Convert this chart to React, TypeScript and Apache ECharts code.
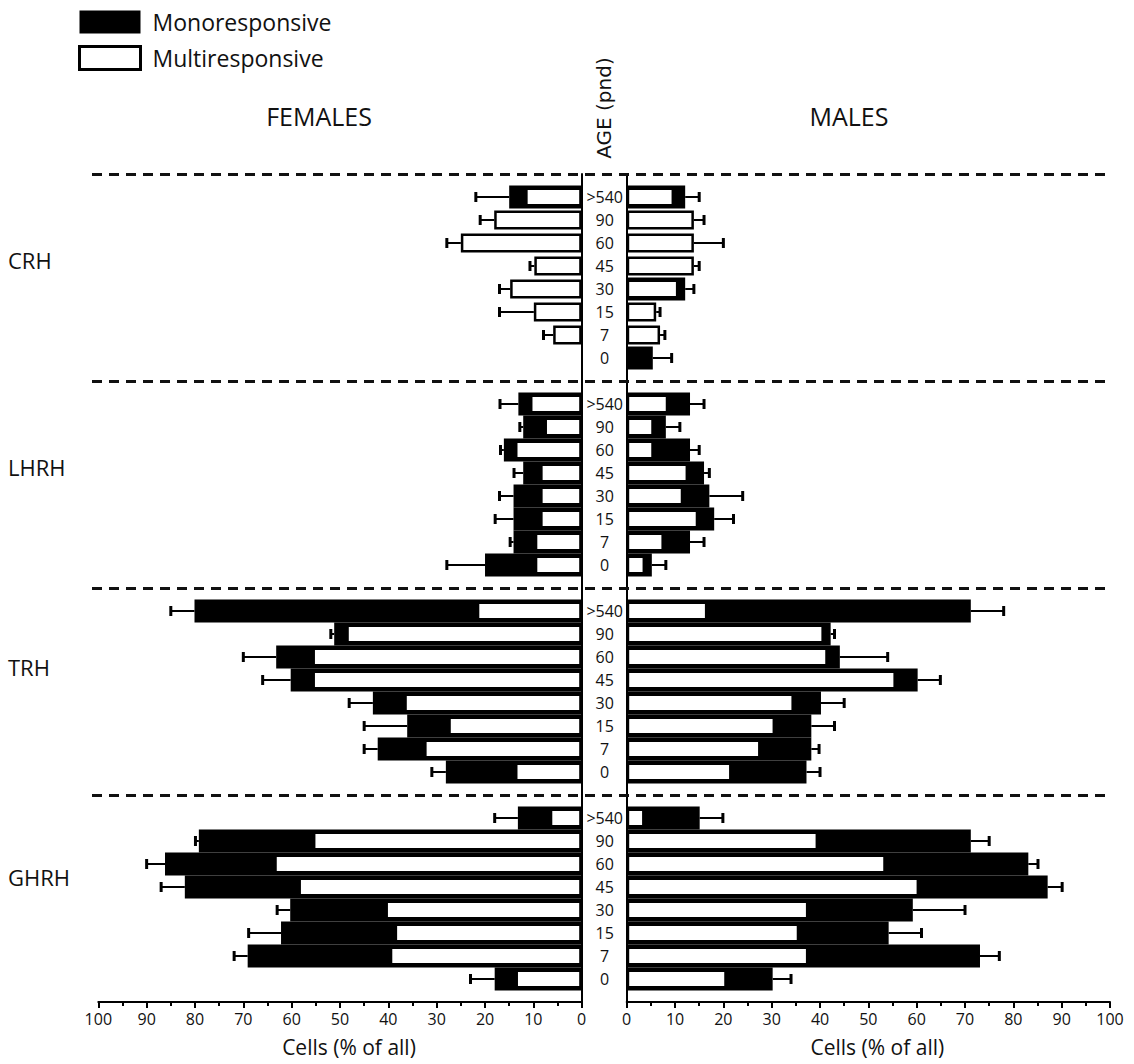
import React, { useEffect, useRef } from 'react';
import * as echarts from 'echarts';

const GROUPS = ['CRH', 'LHRH', 'TRH', 'GHRH'];
const AGES = ['>540', '90', '60', '45', '30', '15', '7', '0'];
const X_TICK_INTERVAL = 10;

// FEMALES — multiresponsive (white), monoresponsive (black, on top of white), SEM
const CRH_F_MULTI = [11.7, 18.1, 25.0, 9.8, 14.8, 9.9, 5.9, 0];
const CRH_F_MONO = [3.3, 0, 0, 0, 0, 0, 0, 0];
const CRH_F_SEM = [6.9, 2.9, 2.9, 0.9, 2.2, 7.1, 2.0, 0];

const LHRH_F_MULTI = [10.7, 7.7, 13.8, 8.6, 8.6, 8.6, 9.7, 9.7];
const LHRH_F_MONO = [2.4, 4.4, 2.3, 3.5, 5.5, 5.5, 4.4, 10.3];
const LHRH_F_SEM = [3.8, 0.7, 0.7, 1.9, 2.9, 3.8, 0.7, 7.9];

const TRH_F_MULTI = [21.7, 48.7, 55.7, 55.7, 36.7, 27.6, 32.6, 13.8];
const TRH_F_MONO = [58.4, 2.5, 7.5, 4.5, 6.5, 8.5, 9.6, 14.3];
const TRH_F_SEM = [4.9, 0.7, 6.8, 5.8, 4.9, 8.9, 2.8, 2.9];

const GHRH_F_MULTI = [6.6, 55.6, 63.6, 58.6, 40.6, 38.7, 39.7, 13.7];
const GHRH_F_MONO = [6.6, 23.6, 22.6, 23.5, 19.7, 23.5, 29.4, 4.3];
const GHRH_F_SEM = [4.8, 0.7, 3.8, 4.9, 2.7, 6.7, 2.8, 5.0];

// MALES
const CRH_M_MULTI = [9.8, 13.9, 13.9, 13.9, 10.7, 6.1, 6.9, 0.8];
const CRH_M_MONO = [2.3, 0, 0, 0, 1.4, 0, 0, 4.6];
const CRH_M_SEM = [2.9, 2.1, 6.1, 1.1, 1.8, 0.8, 1.0, 3.9];

const LHRH_M_MULTI = [8.6, 5.6, 5.6, 12.7, 11.7, 14.8, 7.7, 3.8];
const LHRH_M_MONO = [4.5, 2.5, 7.5, 3.3, 5.4, 3.3, 5.4, 1.4];
const LHRH_M_SEM = [2.9, 2.9, 1.9, 1.1, 6.9, 4.0, 2.9, 2.9];

const TRH_M_MULTI = [16.7, 40.8, 41.6, 55.7, 34.6, 30.7, 27.7, 21.7];
const TRH_M_MONO = [54.5, 1.4, 2.5, 4.5, 5.6, 7.5, 10.5, 15.5];
const TRH_M_SEM = [6.8, 0.8, 9.9, 4.7, 4.8, 4.8, 1.6, 2.8];

const GHRH_M_MULTI = [3.7, 39.6, 53.6, 60.5, 37.6, 35.7, 37.6, 20.7];
const GHRH_M_MONO = [11.4, 31.6, 29.5, 26.6, 21.6, 18.5, 35.5, 9.5];
const GHRH_M_SEM = [4.8, 3.8, 2.0, 3.0, 10.8, 6.8, 4.0, 3.8];

const F_MULTI = [CRH_F_MULTI, LHRH_F_MULTI, TRH_F_MULTI, GHRH_F_MULTI];
const F_MONO = [CRH_F_MONO, LHRH_F_MONO, TRH_F_MONO, GHRH_F_MONO];
const F_SEM = [CRH_F_SEM, LHRH_F_SEM, TRH_F_SEM, GHRH_F_SEM];
const M_MULTI = [CRH_M_MULTI, LHRH_M_MULTI, TRH_M_MULTI, GHRH_M_MULTI];
const M_MONO = [CRH_M_MONO, LHRH_M_MONO, TRH_M_MONO, GHRH_M_MONO];
const M_SEM = [CRH_M_SEM, LHRH_M_SEM, TRH_M_SEM, GHRH_M_SEM];

// category slots: one separator slot per group, then 8 ages; trailing blank
const SLOTS: string[] = [];
GROUPS.forEach((g) => {
  SLOTS.push(g + '|');
  AGES.forEach((a) => SLOTS.push(g + '|' + a));
});
SLOTS.push('end|');

function slotData(arrs: number[][]): (number | null)[] {
  const out: (number | null)[] = [];
  arrs.forEach((arr) => {
    out.push(null);
    arr.forEach((v) => out.push(v === 0 ? null : v));
  });
  out.push(null);
  return out;
}

// black segment drawn from 0 to the stacked total (multi + mono); white is laid over 0..multi
function totalData(multi: number[][], mono: number[][]): (number | null)[] {
  const out: (number | null)[] = [];
  multi.forEach((arr, g) => {
    out.push(null);
    arr.forEach((v, i) => out.push(mono[g][i] === 0 ? null : v + mono[g][i]));
  });
  out.push(null);
  return out;
}

function errData(multi: number[][], mono: number[][], sem: number[][]) {
  const out: number[][] = [];
  multi.forEach((arr, g) => {
    arr.forEach((v, i) => {
      const total = v + mono[g][i];
      if (sem[g][i] > 0) out.push([g * 9 + 1 + i, total, total + sem[g][i]]);
    });
  });
  return out;
}

const FONT = "'Open Sans', 'Noto Sans', sans-serif";
const INK = '#111';

const renderErr = (params: any, api: any) => {
  const yIdx = api.value(0);
  const a = api.coord([api.value(1), yIdx]);
  const b = api.coord([api.value(2), yIdx]);
  return {
    type: 'group',
    children: [
      { type: 'line', shape: { x1: a[0], y1: a[1], x2: b[0], y2: b[1] }, style: { stroke: '#000', lineWidth: 2 } },
      { type: 'line', shape: { x1: b[0], y1: b[1] - 5, x2: b[0], y2: b[1] + 5 }, style: { stroke: '#000', lineWidth: 3 } },
    ],
  };
};

export default function App() {
  const ref = useRef<HTMLDivElement>(null);

  useEffect(() => {
    if (!ref.current) return;
    const chart = echarts.init(ref.current, null, { renderer: 'svg' });

    const gridTop = 174;
    const gridHeight = 828;

    const xAxisCommon = (inverse: boolean, gridIndex: number) => ({
      type: 'value',
      gridIndex,
      min: 0,
      max: 100,
      interval: X_TICK_INTERVAL,
      inverse,
      position: 'bottom',
      axisLine: { show: true, onZero: false, lineStyle: { color: '#000', width: 2 } },
      axisTick: { show: true, length: 6, lineStyle: { color: '#000', width: 2 } },
      minorTick: { show: true, splitNumber: 2, length: 4, lineStyle: { color: '#000', width: 2 } },
      splitLine: { show: false },
      minorSplitLine: { show: false },
      axisLabel: { color: INK, fontSize: 16, fontFamily: FONT, margin: 9 },
      name: 'Cells (% of all)',
      nameLocation: 'middle',
      nameGap: 34,
      nameTextStyle: { color: INK, fontSize: 21, fontFamily: FONT, padding: [0, 0, 0, 18] },
    });

    const yAxisCommon = (gridIndex: number, position: string, showLabel: boolean, showLine: boolean) => ({
      type: 'category',
      gridIndex,
      data: SLOTS,
      inverse: true,
      boundaryGap: false,
      position,
      axisLine: { show: showLine, onZero: false, lineStyle: { color: '#000', width: 2 } },
      axisTick: { show: false },
      splitLine: { show: false },
      axisLabel: {
        show: showLabel,
        interval: 0,
        align: 'center',
        margin: 23,
        color: INK,
        fontSize: 16,
        fontFamily: FONT,
        formatter: (v: string) => v.split('|')[1] || '',
      },
    });

    const blackStyle = { color: '#000', borderColor: '#000', borderWidth: 0 };
    const whiteStyle = { color: '#fff', borderColor: '#000', borderWidth: 2.5 };

    const series: any[] = [
      {
        name: 'Monoresponsive', type: 'bar', xAxisIndex: 0, yAxisIndex: 3,
        data: totalData(F_MULTI, F_MONO), barWidth: 23, itemStyle: blackStyle,
      },
      {
        name: 'Multiresponsive', type: 'bar', xAxisIndex: 0, yAxisIndex: 0,
        data: slotData(F_MULTI), barWidth: 19, itemStyle: whiteStyle,
      },
      {
        name: 'Monoresponsive', type: 'bar', xAxisIndex: 1, yAxisIndex: 4,
        data: totalData(M_MULTI, M_MONO), barWidth: 23, itemStyle: blackStyle,
      },
      {
        name: 'Multiresponsive', type: 'bar', xAxisIndex: 1, yAxisIndex: 1,
        data: slotData(M_MULTI), barWidth: 19, itemStyle: whiteStyle,
      },
      {
        type: 'custom', xAxisIndex: 0, yAxisIndex: 0, z: 5,
        encode: { x: [1, 2], y: 0 },
        data: errData(F_MULTI, F_MONO, F_SEM),
        renderItem: renderErr, silent: true,
      },
      {
        type: 'custom', xAxisIndex: 1, yAxisIndex: 1, z: 5,
        encode: { x: [1, 2], y: 0 },
        data: errData(M_MULTI, M_MONO, M_SEM),
        renderItem: renderErr, silent: true,
      },
      {
        type: 'line', xAxisIndex: 2, yAxisIndex: 2, data: [], silent: true,
        markLine: {
          silent: true,
          symbol: ['none', 'none'],
          label: { show: false },
          lineStyle: { color: '#111', width: 3, type: [10, 7] },
          emphasis: { disabled: true },
          data: GROUPS.map((g) => ({ yAxis: g + '|' })),
        },
      },
    ];

    const groupLabelY = [264, 471, 671, 881];

    chart.setOption({
      animation: false,
      backgroundColor: '#fff',
      grid: [
        { left: 98.3, width: 483.4, top: gridTop, height: gridHeight, outerBoundsMode: 'none' },
        { left: 626.7, width: 483.3, top: gridTop, height: gridHeight, outerBoundsMode: 'none' },
        { left: 92, width: 1020, top: gridTop, height: gridHeight, outerBoundsMode: 'none' },
      ],
      xAxis: [
        xAxisCommon(true, 0),
        xAxisCommon(false, 1),
        { type: 'value', gridIndex: 2, min: 0, max: 1, show: false },
      ],
      yAxis: [
        yAxisCommon(0, 'right', true, true),
        yAxisCommon(1, 'left', false, true),
        { ...yAxisCommon(2, 'left', false, false), show: false },
        { ...yAxisCommon(0, 'right', false, false), show: false },
        { ...yAxisCommon(1, 'left', false, false), show: false },
      ],
      legend: {
        orient: 'vertical',
        left: 78,
        top: 10,
        padding: 0,
        itemWidth: 61,
        itemHeight: 23,
        itemGap: 11,
        selectedMode: false,
        icon: 'rect',
        textStyle: { color: INK, fontSize: 23, fontFamily: FONT, lineHeight: 24, padding: [0, 0, 0, 7] },
        data: [
          { name: 'Monoresponsive', itemStyle: { color: '#000', borderColor: '#000', borderWidth: 0 } },
          { name: 'Multiresponsive', itemStyle: { color: '#fff', borderColor: '#000', borderWidth: 3 } },
        ],
      },
      graphic: [
        ...GROUPS.map((g, i) => ({
          type: 'text', left: 8, top: groupLabelY[i] - 15,
          style: { text: g, fill: INK, fontSize: 22, fontFamily: FONT },
        })),
        {
          type: 'text', x: 319, y: 116,
          style: { text: 'FEMALES', fill: INK, fontSize: 25, fontFamily: FONT, textAlign: 'center', textVerticalAlign: 'middle' },
        },
        {
          type: 'text', x: 849, y: 116,
          style: { text: 'MALES', fill: INK, fontSize: 25, fontFamily: FONT, textAlign: 'center', textVerticalAlign: 'middle' },
        },
        {
          type: 'text', x: 604, y: 108, rotation: Math.PI / 2,
          style: { text: 'AGE (pnd)', fill: INK, fontSize: 20, fontFamily: "'DejaVu Sans', sans-serif", textAlign: 'center', textVerticalAlign: 'middle' },
        },
      ],
      series,
    });

    return () => chart.dispose();
  }, []);

  return (
    <div
      ref={ref}
      style={{ position: 'fixed', left: 0, top: 0, width: 1134, height: 1064, background: '#fff' }}
    />
  );
}
